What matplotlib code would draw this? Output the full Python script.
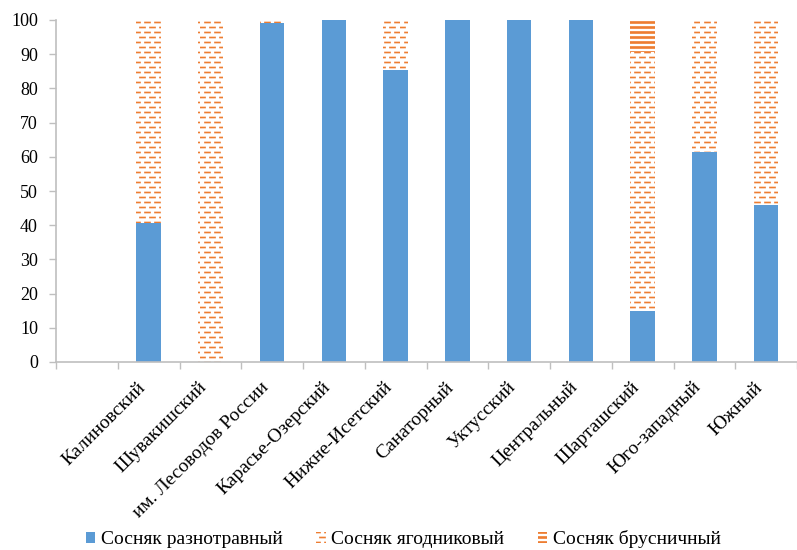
import warnings
warnings.filterwarnings('ignore')
import numpy as np
import matplotlib
matplotlib.use('Agg')
import matplotlib.pyplot as plt
import matplotlib.hatch as mhatch
import matplotlib.transforms as mtransforms
from matplotlib.path import Path

# ---------------- data ----------------
categories = ['', 'Калиновский', 'Шувакишский', 'им. Лесоводов России', 'Карасье-Озерский',
              'Нижне-Исетский', 'Санаторный', 'Уктусский', 'Центральный', 'Шарташский',
              'Юго-западный', 'Южный']
raznotravny = [0, 40.7, 0, 99.0, 100, 85.5, 100, 100, 100, 15.0, 61.5, 46.0]
yagodnikovy = [0, 59.3, 100, 1.0, 0, 14.5, 0, 0, 0, 75.5, 38.5, 54.0]
brusnichny = [0, 0, 0, 0, 0, 0, 0, 0, 0, 9.5, 0, 0]
series_names = ['Сосняк разнотравный', 'Сосняк ягодниковый', 'Сосняк брусничный']
yticks = [0, 10, 20, 30, 40, 50, 60, 70, 80, 90, 100]


# ---------------- custom hatches ----------------
class DashHatch(mhatch.HatchPatternBase):
    def __init__(self, hatch, density):
        self.segs = []
        if '_' in hatch:
            rows, period, dash = 20, 0.1, 0.05
            for r in range(rows):
                y = (r + 0.5) / rows
                off = 0.0 if r % 2 == 0 else period / 2
                for c in range(10):
                    x0 = c * period + off
                    x1 = x0 + dash
                    if x1 <= 1.0:
                        self.segs.append((x0, x1, y))
                    else:
                        self.segs.append((x0, 1.0, y))
                        self.segs.append((0.0, x1 - 1.0, y))
        self.num_vertices = 2 * len(self.segs)

    def set_vertices_and_codes(self, vertices, codes):
        for i, (x0, x1, y) in enumerate(self.segs):
            vertices[2 * i] = (x0, y)
            vertices[2 * i + 1] = (x1, y)
            codes[2 * i] = Path.MOVETO
            codes[2 * i + 1] = Path.LINETO


class StripeHatch(mhatch.HatchPatternBase):
    def __init__(self, hatch, density):
        self.ys = []
        if '=' in hatch:
            rows = 20
            for r in range(rows):
                y = (r + 0.5) / rows
                self.ys += [y - 0.005, y + 0.005]
        self.num_vertices = 2 * len(self.ys)

    def set_vertices_and_codes(self, vertices, codes):
        for i, y in enumerate(self.ys):
            vertices[2 * i] = (0.0, y)
            vertices[2 * i + 1] = (1.0, y)
            codes[2 * i] = Path.MOVETO
            codes[2 * i + 1] = Path.LINETO


mhatch._hatch_types.append(DashHatch)
mhatch._hatch_types.append(StripeHatch)

plt.rcParams['font.family'] = ['Liberation Serif', 'DejaVu Serif']
plt.rcParams['hatch.linewidth'] = 1.2

BLUE = '#5B9BD5'
ORANGE = '#ED7D31'
GRAY = '#BFBFBF'

fig = plt.figure(figsize=(7.97, 5.50), dpi=100)
ax = fig.add_axes([56 / 797, 188 / 550, 741 / 797, 342 / 550])

x = np.arange(len(categories))
w = 0.4
r = np.array(raznotravny, dtype=float)
yv = np.array(yagodnikovy, dtype=float)
b = np.array(brusnichny, dtype=float)

ax.bar(x, r, w, color=BLUE, linewidth=0, label=series_names[0])
ax.bar(x, yv, w, bottom=r, facecolor='white', edgecolor=ORANGE, linewidth=0,
       hatch='_', label=series_names[1])
ax.bar(x, b, w, bottom=r + yv, facecolor='white', edgecolor=ORANGE, linewidth=0,
       hatch='=', label=series_names[2])

ax.set_ylim(0, 100)
ax.set_xlim(-0.5, -0.5 + 741 / 62.45)
ax.set_yticks(yticks)
ax.set_yticklabels([str(t) for t in yticks], fontsize=13)
ax.set_xticks(x)
ax.set_xticklabels(categories, rotation=45, ha='right', va='top', fontsize=14)
shift = mtransforms.ScaledTranslation(0.06, 0, fig.dpi_scale_trans)
for lab in ax.get_xticklabels():
    lab.set_transform(lab.get_transform() + shift)
ax.set_xticks(np.arange(-0.5, len(categories) + 0.5, 1), minor=True)
ax.tick_params(axis='x', which='major', length=0, pad=12)
ax.tick_params(axis='x', which='minor', length=5, color=GRAY, width=1)
ax.tick_params(axis='y', length=5, color=GRAY, width=1, pad=8)

for s in ['top', 'right']:
    ax.spines[s].set_visible(False)
for s in ['left', 'bottom']:
    ax.spines[s].set_color(GRAY)
    ax.spines[s].set_linewidth(1.2)

leg = fig.legend(loc='center', bbox_to_anchor=(0.506, 1 - 539 / 550), ncol=3,
                 frameon=False, fontsize=14, handlelength=0.5, handleheight=0.5,
                 handletextpad=0.3, columnspacing=1.7, borderpad=0)

fig.savefig('out.png', dpi=100)
